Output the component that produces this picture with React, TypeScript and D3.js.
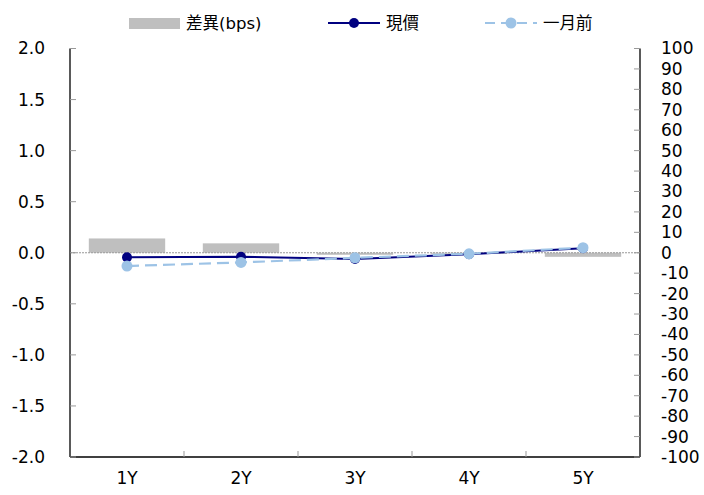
import React from "react";
import * as d3 from "d3";

const categories = ["1Y", "2Y", "3Y", "4Y", "5Y"];
const diffBps = [7, 4.6, -1, -0.5, -2];
const current = [-0.045, -0.04, -0.06, -0.015, 0.045];
const monthAgo = [-0.13, -0.095, -0.05, -0.01, 0.05];
const leftTicks = [2.0, 1.5, 1.0, 0.5, 0.0, -0.5, -1.0, -1.5, -2.0];
const rightTicks = d3.range(100, -101, -10);

const W = 704, H = 495;
const L = 70, R = 640, T = 48.5, B = 457;
const FONT = "'DejaVu Sans', 'Noto Sans CJK TC', sans-serif";

export default function App() {
  const x = d3.scaleBand<string>().domain(categories).range([L, R]).paddingInner(0).paddingOuter(0);
  const yL = d3.scaleLinear().domain([-2, 2]).range([B, T]);
  const yR = d3.scaleLinear().domain([-100, 100]).range([B, T]);
  const bw = x.bandwidth();
  const barW = bw * 0.67;
  const cx = (c: string) => (x(c) as number) + bw / 2;
  const line = d3.line<number>().x((_, i) => cx(categories[i])).y((v) => yL(v));
  const dark = "#000080";
  const light = "#9DC3E6";
  const boundaries = categories.slice(1).map((c) => x(c) as number);

  return (
    <svg width={W} height={H} style={{ position: "absolute", left: 0, top: 0, fontFamily: FONT }}>
      <rect width={W} height={H} fill="#fff" />
      {/* bars */}
      {diffBps.map((v, i) => (
        <rect key={i} x={cx(categories[i]) - barW / 2} y={Math.min(yR(v), yR(0))}
          width={barW} height={Math.abs(yR(v) - yR(0))} fill="#BFBFBF" />
      ))}
      {/* zero line */}
      <line x1={L} x2={R} y1={yL(0)} y2={yL(0)} stroke="#999" strokeWidth={1} strokeDasharray="2,1" />
      {/* axes */}
      <line x1={L} x2={L} y1={T} y2={B} stroke="#000" strokeWidth={1.3} />
      <line x1={R} x2={R} y1={T} y2={B} stroke="#000" strokeWidth={1.3} />
      <line x1={L} x2={R} y1={B} y2={B} stroke="#000" strokeWidth={1.3} />
      {leftTicks.map((t) => (
        <g key={"l" + t}>
          <line x1={L} x2={L + 6} y1={yL(t)} y2={yL(t)} stroke="#999" />
          <text x={45} y={yL(t)} dy="0.35em" textAnchor="end" fontSize={17} fill="#000">
            {t.toFixed(1)}
          </text>
        </g>
      ))}
      {rightTicks.map((t) => (
        <g key={"r" + t}>
          <line x1={R - 6} x2={R} y1={yR(t)} y2={yR(t)} stroke="#999" />
          <text x={661} y={yR(t)} dy="0.35em" textAnchor="start" fontSize={17} fill="#000">
            {t}
          </text>
        </g>
      ))}
      {boundaries.map((b, i) => (
        <line key={"b" + i} x1={b} x2={b} y1={B} y2={B - 6} stroke="#999" />
      ))}
      {categories.map((c) => (
        <text key={c} x={cx(c)} y={484} textAnchor="middle" fontSize={17} fill="#000">{c}</text>
      ))}
      {/* lines */}
      <path d={line(current) || ""} fill="none" stroke={dark} strokeWidth={2} />
      {current.map((v, i) => (
        <circle key={"c" + i} cx={cx(categories[i])} cy={yL(v)} r={5} fill={dark} />
      ))}
      <path d={line(monthAgo) || ""} fill="none" stroke={light} strokeWidth={2.2} strokeDasharray="12,6" />
      {monthAgo.map((v, i) => (
        <circle key={"m" + i} cx={cx(categories[i])} cy={yL(v)} r={5.5} fill={light} />
      ))}
      {/* legend */}
      <rect x={129} y={18} width={51} height={11} fill="#BFBFBF" />
      <text x={186} y={23.5} dy="0.35em" fontSize={16.5} fill="#000">差異(bps)</text>
      <line x1={328} x2={380} y1={23} y2={23} stroke={dark} strokeWidth={2} />
      <circle cx={354} cy={23} r={5} fill={dark} />
      <text x={386} y={23.5} dy="0.35em" fontSize={16.5} fill="#000">現價</text>
      <line x1={485} x2={537} y1={23} y2={23} stroke={light} strokeWidth={2.2} strokeDasharray="10,6" />
      <circle cx={511} cy={23} r={5.5} fill={light} />
      <text x={543} y={23.5} dy="0.35em" fontSize={16.5} fill="#000">一月前</text>
    </svg>
  );
}
